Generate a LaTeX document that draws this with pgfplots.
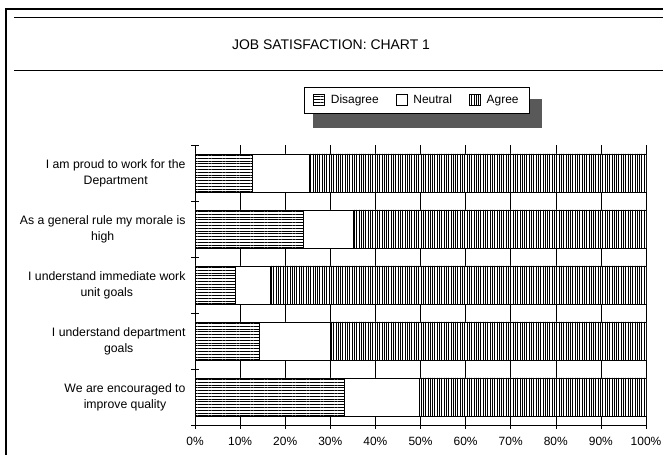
\documentclass[border=0pt]{standalone}
\usepackage{fontspec}
\setmainfont{Liberation Sans}
\usepackage{pgfplots}
\pgfplotsset{compat=1.18}
\usetikzlibrary{patterns.meta}
\begin{document}
\begin{tikzpicture}[x=1bp,y=1bp]
\useasboundingbox (0,0) rectangle (663,455);
\fill[white] (0,0) rectangle (663,455);
\draw[line width=1.6bp] (6,0) -- (6,446) -- (663,446);
\draw[line width=1bp] (14,437) -- (663,437);
\draw[line width=0.8bp] (14,385) -- (663,385);
\node[font=\fontsize{14}{16}\selectfont] at (331,410) {JOB SATISFACTION: CHART 1};
% legend shadow
\fill[black!65] (313,327) rectangle (542,356);
\begin{axis}[
  at={(195bp,30bp)}, anchor=south west,
  scale only axis, width=451bp, height=280bp,
  xbar stacked, bar width=38bp,
  xmin=0, xmax=100, ymin=0.5, ymax=5.5,
  axis x line*=bottom, axis y line*=left,
  axis line style={-, line width=0.7bp},
  xtick={0,10,...,100},
  xticklabels={0\%,10\%,20\%,30\%,40\%,50\%,60\%,70\%,80\%,90\%,100\%},
  xticklabel style={font=\fontsize{12}{14}\selectfont, yshift=-5bp},
  tick align=center, major tick length=8bp,
  tick style={black, line width=0.6bp},
  xmajorgrids, major grid style={black, line width=0.6bp},
  ytick={0.5,1.5,...,5.5}, yticklabel=\empty,
  extra y ticks={1,2,3,4,5},
  extra y tick labels={{We are encouraged to\\improve quality},{I understand department\\goals},{I understand immediate work\\unit goals},{As a general rule my morale is\\high},{I am proud to work for the\\Department}},
  extra y tick style={major tick length=0pt, tick style={draw=none}, grid=none},
  yticklabel style={font=\fontsize{12.3}{16}\selectfont, align=center, xshift=-6bp},
  legend style={at={(0.492,1.16)}, anchor=center, draw=black, line width=0.6bp, fill=white,
    legend columns=3, font=\fontsize{12}{14}\selectfont,
    /tikz/every odd column/.append style={column sep=4bp},
    /tikz/every even column/.append style={column sep=15bp},
    inner xsep=9bp, inner ysep=6bp},
  legend image code/.code={\draw[#1] (0bp,-5.5bp) rectangle (11bp,5.5bp);},
]
\addplot[draw=black, line width=0.7bp, preaction={fill=white}, pattern={Lines[angle=0,distance=2.8bp,line width=0.6bp]}]
  coordinates {(33.1,1) (14.2,2) (9.0,3) (24.1,4) (12.8,5)};
\addplot[draw=black, line width=0.7bp, fill=white]
  coordinates {(16.7,1) (15.8,2) (7.8,3) (10.9,4) (12.6,5)};
\addplot[draw=black, line width=0.7bp, preaction={fill=white}, pattern={Lines[angle=90,distance=2.3bp,line width=0.6bp]}]
  coordinates {(50.2,1) (70.0,2) (83.2,3) (65.0,4) (74.6,5)};
\legend{Disagree,Neutral,Agree}
\end{axis}
\end{tikzpicture}
\end{document}
